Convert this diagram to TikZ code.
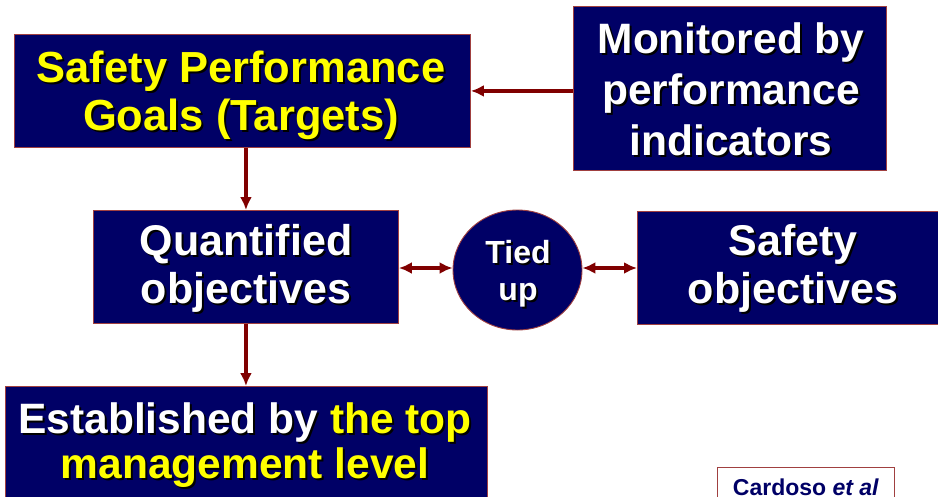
\documentclass[tikz,border=0pt]{standalone}
\usepackage{fontspec}
\setmainfont{Liberation Sans}
\usetikzlibrary{arrows.meta,shapes.geometric,calc}
\definecolor{navy}{HTML}{000066}
\definecolor{edgecol}{HTML}{A04040}
\definecolor{arrowcol}{HTML}{800000}
\definecolor{yel}{HTML}{FFFF00}
\colorlet{hl}{yel}
\newcommand\yl[1]{\textcolor{hl}{#1}}
\tikzset{
  box/.style={draw=edgecol, fill=navy, line width=0.9pt, inner sep=0pt, anchor=north west},
  lbl/.style={inner sep=0pt, anchor=base, font=\bfseries},
  conn/.style={draw=arrowcol, line width=3.5pt, -{Latex[length=13pt,width=12pt]}},
  conn2/.style={draw=arrowcol, line width=3.5pt, {Latex[length=13pt,width=12pt]}-{Latex[length=13pt,width=12pt]}},
}
% shadowed text line: [colour]{x}{y}{size}{text}
\newcommand\stxt[5][white]{%
  \node[lbl, text=black, font=\fontsize{#4}{#4}\bfseries, execute at begin node={\colorlet{hl}{black}}] at (#2+2,#3+2) {#5};
  \node[lbl, text=#1, font=\fontsize{#4}{#4}\bfseries] at (#2,#3) {#5};}
\begin{document}
\begin{tikzpicture}[x=1pt,y=-1pt]
\useasboundingbox (0,0) rectangle (938,496);
\begin{scope}
\clip (0,0) rectangle (938,496);
% boxes
\node[box, minimum width=456pt, minimum height=113pt] (goals) at (14,34) {};
\node[box, minimum width=313pt, minimum height=164pt] (mon) at (573,6) {};
\node[box, minimum width=305pt, minimum height=113pt] (quant) at (93,210) {};
\node[box, minimum width=313pt, minimum height=113pt] (safobj) at (637,211) {};
\node[box, minimum width=482pt, minimum height=140pt] (estab) at (5,386) {};
\node[draw=edgecol, fill=navy, line width=0.9pt, ellipse, minimum width=129pt, minimum height=120pt, inner sep=0pt] (tied) at (517.5,270) {};
\node[draw=edgecol, fill=white, line width=1pt, minimum width=177pt, minimum height=40pt, inner sep=0pt, anchor=north west] (ref) at (717,467) {};
% texts
\stxt[yel]{241}{82}{43.5}{Safety Performance}
\stxt[yel]{241}{130}{43.5}{Goals (Targets)}
\stxt{731}{53}{42.5}{Monitored by}
\stxt{731}{104}{42.5}{performance}
\stxt{731}{155}{42.5}{indicators}
\stxt{246}{255}{43}{Quantified}
\stxt{246}{303}{43}{objectives}
\stxt{793}{255}{43}{Safety}
\stxt{793}{303}{43}{objectives}
\stxt{518}{263}{32}{Tied}
\stxt{518}{300}{32}{up}
\stxt{245}{433}{42.5}{Established by \yl{the top}}
\stxt[yel]{245}{478}{42.5}{management level}
\node[lbl, text=navy, font=\fontsize{23}{23}\bfseries] (reftext) at (806,495) {Cardoso \textit{et al}};
% connectors
\draw[conn] (mon.west |- goals.east) -- (goals.east);
\draw[conn] (quant.north |- goals.south) -- (quant.north);
\draw[conn] (quant.south) -- (quant.south |- estab.north);
\draw[conn2] (quant.east |- 0,268) -- (tied.west |- 0,268);
\draw[conn2] (tied.east |- 0,268) -- (safobj.west |- 0,268);
\end{scope}
\end{tikzpicture}
\end{document}
